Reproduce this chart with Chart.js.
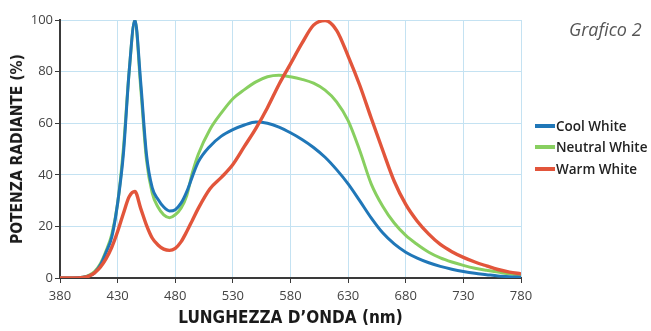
<!DOCTYPE html>
<html>
<head>
<meta charset="utf-8">
<script src="https://cdn.jsdelivr.net/npm/chart.js@4.4.1/dist/chart.umd.min.js"></script>
<style>
  html, body { margin: 0; padding: 0; background: #fff; }
  #wrap { position: relative; width: 651px; height: 331px; }
  #c { position: absolute; left: 0; top: 0; }
  .lbl { position: absolute; white-space: nowrap; }
  #title { left: 569px; top: 17px; font: italic 18px "Open Sans", sans-serif; color: #555; }
  #xtitle { left: 0; width: 581px; top: 307px; text-align: center;
    font: bold 17px "DejaVu Sans Condensed", sans-serif; color: #1a1a1a; }
  #ytitle { left: 17px; top: 149px; transform: translate(-50%, -50%) rotate(-90deg);
    font: bold 15.5px "DejaVu Sans Condensed", sans-serif; color: #1a1a1a; }
  .leg { left: 535px; font: 600 13.5px "Open Sans", sans-serif; color: #222; }
  .leg i { display: inline-block; width: 20px; height: 4px; vertical-align: middle; margin-right: 1px; position: relative; top: -1px; }
</style>
</head>
<body>
<div id="wrap">
  <canvas id="c" width="651" height="331"></canvas>
  <div class="lbl" id="title">Grafico 2</div>
  <div class="lbl" id="ytitle">POTENZA RADIANTE (%)</div>
  <div class="lbl" id="xtitle">LUNGHEZZA D’ONDA (nm)</div>
  <div class="lbl leg" style="top:117px"><i style="background:#2077b8"></i>Cool White</div>
  <div class="lbl leg" style="top:138px"><i style="background:#88cf60"></i>Neutral White</div>
  <div class="lbl leg" style="top:160px"><i style="background:#e2553b"></i>Warm White</div>
</div>
<script>
const wavelengths = [380, 390, 400, 405, 410, 415, 420, 425, 430, 435, 440, 445, 450, 455, 460, 465, 470, 475, 480, 485, 490, 495, 500, 510, 520, 530, 540, 550, 560, 570, 580, 590, 600, 610, 620, 630, 640, 650, 660, 670, 680, 690, 700, 710, 720, 730, 740, 750, 760, 770, 780];

const coolWhite = [0, 0, 0.3, 0.8, 2, 5, 10, 16, 29, 48, 80, 100, 76, 48, 35, 30.5, 27.5, 26, 26.5, 29, 33.5, 39.5, 45, 51, 55, 57.5, 59.3, 60.5, 60, 58.5, 56.3, 53.7, 50.6, 46.8, 42, 36.5, 30, 23.3, 17.5, 13.2, 10, 7.7, 5.9, 4.5, 3.4, 2.5, 1.8, 1.3, 0.8, 0.5, 0.3];

const neutralWhite = [0, 0, 0.3, 1, 2.5, 5.5, 10.5, 17, 29, 50, 80, 100, 74, 46, 33, 27.5, 24.5, 23.4, 24.5, 27, 32, 41, 48, 57.5, 64, 69.5, 73, 76, 78, 78.6, 78, 77, 75.5, 72.8, 68.3, 61, 49.5, 36.5, 27.8, 21.3, 16.5, 13, 10, 7.8, 6.2, 4.9, 3.8, 3, 2.3, 1.6, 1];

const warmWhite = [0, 0, 0.2, 0.7, 2, 4.2, 7.5, 12, 18, 25, 31.5, 33.5, 27, 20.5, 15.5, 12.8, 11.2, 10.7, 11.5, 14, 18, 22.5, 27, 34.5, 39, 44, 51, 58, 66, 75, 83, 91, 98, 99.8, 96, 86, 74.8, 62, 49.5, 37.5, 28.5, 22, 17, 13, 10.2, 8, 6.2, 4.7, 3.3, 2.3, 1.6];

const xTicks = [380, 430, 480, 530, 580, 630, 680, 730, 780];
const yTicks = [0, 20, 40, 60, 80, 100];

function pts(vals) {
  return wavelengths.map((w, i) => ({ x: w, y: vals[i] }));
}

const gridBlue = "#c4e2f2";
const axisDark = "#3a3a3a";
const tickFont = { family: "'Open Sans', sans-serif", size: 13 };

new Chart(document.getElementById("c"), {
  type: "line",
  data: {
    datasets: [
      { label: "Warm White", data: pts(warmWhite), borderColor: "#e2553b", borderWidth: 3.4, order: 0 },
      { label: "Cool White", data: pts(coolWhite), borderColor: "#2077b8", borderWidth: 3, order: 1 },
      { label: "Neutral White", data: pts(neutralWhite), borderColor: "#88cf60", borderWidth: 3, order: 2 },
    ],
  },
  options: {
    responsive: false,
    animation: false,
    devicePixelRatio: 1,
    elements: {
      point: { radius: 0 },
      line: { cubicInterpolationMode: "monotone", fill: false },
    },
    layout: { padding: { left: 0, right: 130, top: 20, bottom: 0 } },
    plugins: { legend: { display: false }, tooltip: { enabled: false } },
    scales: {
      x: {
        type: "linear",
        min: 380,
        max: 780,
        afterBuildTicks: (s) => { s.ticks = xTicks.map((v) => ({ value: v })); },
        afterFit: (s) => { s.height = 53; },
        ticks: { color: "#444", font: tickFont, padding: 5, maxRotation: 0 },
        grid: { color: gridBlue, tickColor: axisDark, tickLength: 5, lineWidth: 1 },
        border: { color: axisDark, width: 2 },
      },
      y: {
        min: 0,
        max: 100,
        afterBuildTicks: (s) => { s.ticks = yTicks.map((v) => ({ value: v })); },
        afterFit: (s) => { s.width = 60; },
        ticks: { color: "#444", font: tickFont, padding: 2 },
        grid: { color: gridBlue, tickColor: axisDark, tickLength: 5, lineWidth: 1 },
        border: { color: axisDark, width: 2 },
      },
    },
  },
});
</script>
</body>
</html>
